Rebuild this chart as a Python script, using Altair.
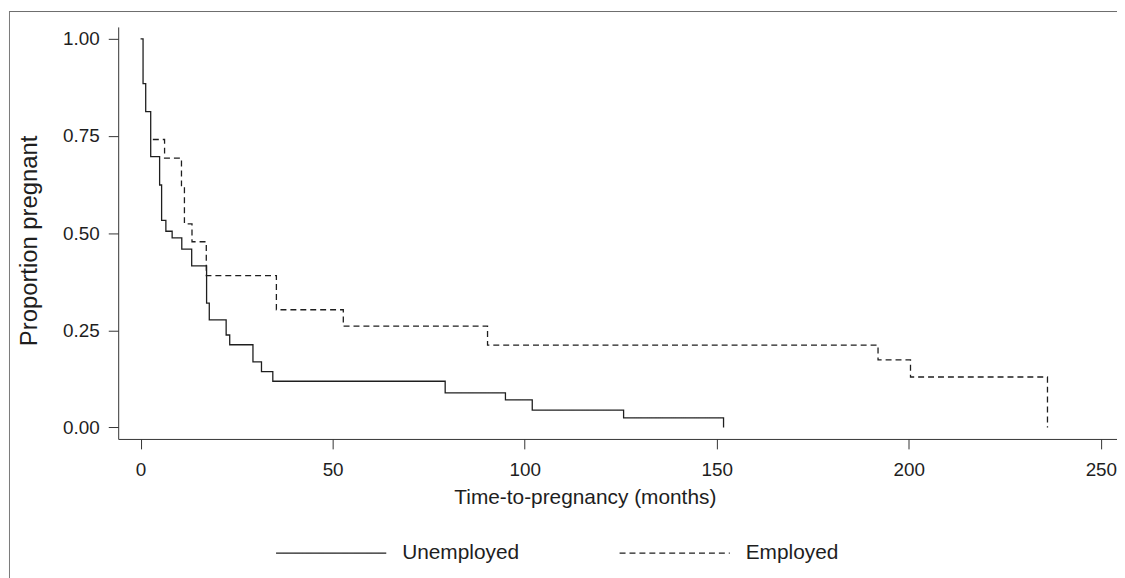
import altair as alt
import pandas as pd

# ---- data (Kaplan-Meier style step curves) ----
groups = ["Unemployed", "Employed"]

unemp_time = [0, 0.65, 1.34, 2.64, 4.96, 5.48, 6.59, 8.22, 10.73, 13.31, 17.19, 17.89,
              22.28, 23.21, 29.26, 31.48, 34.43, 79.30, 94.99, 101.97, 125.75, 151.77]
unemp_prop = [1.0, 0.885, 0.813, 0.697, 0.624, 0.533, 0.505, 0.488, 0.459, 0.416, 0.320, 0.277,
              0.238, 0.213, 0.169, 0.144, 0.119, 0.089, 0.071, 0.045, 0.025, 0.0]

emp_time = [3.2, 6.25, 10.65, 11.42, 13.39, 17.11, 35.36, 52.78, 90.33, 191.99, 200.44, 236.1]
emp_prop = [0.741, 0.693, 0.618, 0.524, 0.478, 0.391, 0.303, 0.261, 0.212, 0.174, 0.130, 0.0]

x_ticks = [0, 50, 100, 150, 200, 250]
y_ticks = [0.0, 0.25, 0.5, 0.75, 1.0]

df = pd.concat([
    pd.DataFrame({"time": unemp_time, "prop": unemp_prop, "group": groups[0],
                  "idx": list(range(len(unemp_time)))}),
    pd.DataFrame({"time": emp_time, "prop": emp_prop, "group": groups[1],
                  "idx": list(range(len(emp_time)))}),
], ignore_index=True)

FONT = "Liberation Sans"
INK = "#1e1e1e"
AXIS = "#333333"
PLOT_W, PLOT_H = 1006, 415

lines = alt.Chart(df).mark_line(
    interpolate="step-after", color=INK, strokeWidth=1.3
).encode(
    x=alt.X("time:Q",
            scale=alt.Scale(domain=[-5.82, 254.2], nice=False, zero=False),
            axis=alt.Axis(values=x_ticks, title="Time-to-pregnancy (months)",
                          labelFlush=False, tickSize=10, labelPadding=12,
                          labelFontSize=19, titleFontSize=21,
                          titleX=470, titleY=65, titleBaseline="alphabetic")),
    y=alt.Y("prop:Q",
            scale=alt.Scale(domain=[-0.0294, 1.0307], nice=False, zero=False),
            axis=alt.Axis(values=y_ticks, format=".2f", title="Proportion pregnant",
                          tickSize=10, labelPadding=9, labelFontSize=19,
                          titleFontSize=24, titleAngle=270, titleX=-82, titleY=215,
                          titleBaseline="alphabetic")),
    strokeDash=alt.StrokeDash(
        "group:N",
        scale=alt.Scale(domain=groups, range=[[1, 0], [6, 4]]),
        legend=alt.Legend(orient="none", legendX=158, legendY=520,
                          direction="horizontal", title=None,
                          symbolType="stroke", symbolSize=12321,
                          symbolStrokeWidth=1.2, symbolStrokeColor=INK,
                          clipHeight=20, labelFontSize=21, labelFont=FONT,
                          labelColor=INK, labelOffset=15, columnPadding=100,
                          padding=0)),
    order="idx:Q",
)

frame_data = alt.Data(values=[{}])
frame_top = alt.Chart(frame_data).mark_rule(color="#6b6b6b", strokeWidth=1).encode(
    x=alt.value(-110), x2=alt.value(1010), y=alt.value(-15.5))
frame_left = alt.Chart(frame_data).mark_rule(color="#7a7a7a", strokeWidth=1).encode(
    x=alt.value(-109.5), y=alt.value(-16), y2=alt.value(560))

chart = alt.layer(lines, frame_top, frame_left).properties(
    width=PLOT_W, height=PLOT_H,
    padding={"left": 111, "top": 17, "right": 0, "bottom": 138},
    autosize=alt.AutoSizeParams(type="none"),
    background="white",
).configure_view(stroke=None).configure_axis(
    grid=False, domainColor=AXIS, tickColor=AXIS, domainWidth=1, tickWidth=1,
    labelFont=FONT, titleFont=FONT, labelColor=INK, titleColor=INK,
    titleFontWeight="normal",
)

chart.save("out.html", embed_options={"renderer": "svg", "actions": False})
